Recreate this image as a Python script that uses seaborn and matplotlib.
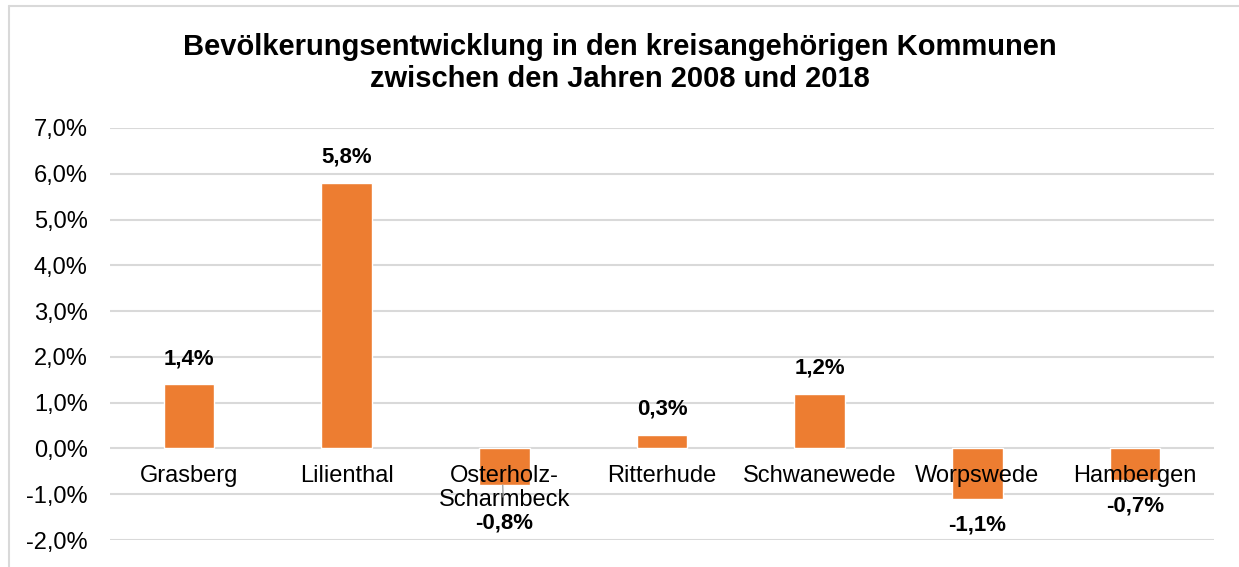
import matplotlib
matplotlib.use('Agg')
import matplotlib.pyplot as plt
import seaborn as sns
import pandas as pd
from matplotlib.ticker import FuncFormatter
from matplotlib.lines import Line2D

# Daten
kommunen = ['Grasberg', 'Lilienthal', 'Osterholz-\nScharmbeck', 'Ritterhude',
            'Schwanewede', 'Worpswede', 'Hambergen']
veraenderung = [1.4, 5.8, -0.8, 0.3, 1.2, -1.1, -0.7]
yticks = [-2, -1, 0, 1, 2, 3, 4, 5, 6, 7]

df = pd.DataFrame({'kommune': kommunen, 'wert': veraenderung})

sns.set_style('white')
plt.rcParams['font.family'] = ['Liberation Sans', 'DejaVu Sans']
plt.rcParams['text.color'] = 'black'

fig = plt.figure(figsize=(12.39, 5.67), dpi=100)
ax = fig.add_axes([110 / 1239, 1 - 540 / 567, 1104 / 1239, 412 / 567])

sns.barplot(data=df, x='kommune', y='wert', color='#ED7D31', width=0.32,
            saturation=1, ax=ax, zorder=3)

ax.set_ylim(-2, 7)
ax.set_xlim(-0.5, len(kommunen) - 0.5)
ax.set_yticks(yticks)
ax.yaxis.set_major_formatter(FuncFormatter(lambda v, p: f'{v:.1f}%'.replace('.', ',')))
ax.tick_params(axis='y', labelsize=17, length=0, pad=16, labelcolor='black')
ax.set_xticks([])
ax.set_xlabel('')
ax.set_ylabel('')
ax.grid(axis='y', color='#D9D9D9', linewidth=1.5, zorder=0)
for s in ax.spines.values():
    s.set_visible(False)

# Kategorienbeschriftung direkt unter der Nulllinie
for i, name in enumerate(kommunen):
    ax.annotate(name, (i, 0), xytext=(0, -12), textcoords='offset points',
                ha='center', va='top', fontsize=17, color='black',
                linespacing=1.12, zorder=5)

# Datenbeschriftung
for i, v in enumerate(veraenderung):
    lbl = f'{v:.1f}%'.replace('.', ',')
    if i != 2:
        off = 11 if v > 0 else -11
        ax.annotate(lbl, (i, v), xytext=(0, off), textcoords='offset points',
                    ha='center', va='bottom' if v > 0 else 'top', color='black',
                    fontsize=16, fontweight='bold', zorder=5)
    else:
        # Beschriftung verschoben, mit Führungslinie
        ax.annotate(lbl, (i - 0.01, v), xytext=(1, -20), textcoords='offset points',
                    ha='center', va='top', fontsize=16, fontweight='bold', zorder=5,
                    color='black',
                    arrowprops=dict(arrowstyle='-', color='#A6A6A6', lw=1,
                                    shrinkA=9, shrinkB=0))

fig.text(0.5, 1 - 63 / 567, 'Bevölkerungsentwicklung in den kreisangehörigen Kommunen\n'
         'zwischen den Jahren 2008 und 2018', ha='center', va='center',
         fontsize=21, fontweight='bold', linespacing=1.18, color='black')

# Rahmen
fig.add_artist(Line2D([9 / 1239, 1], [1 - 6 / 567] * 2, color='#D9D9D9', lw=1.5))
fig.add_artist(Line2D([9 / 1239] * 2, [0, 1 - 6 / 567], color='#D9D9D9', lw=1.5))

fig.savefig('out.png', dpi=100)
